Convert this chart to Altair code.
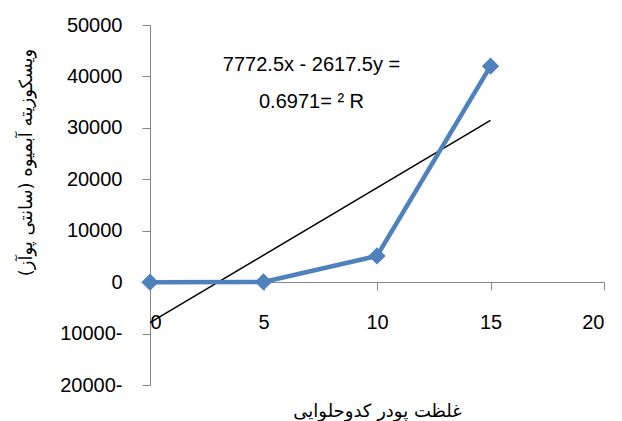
import altair as alt
import pandas as pd

x_vals = [0, 5, 10, 15]
y_vals = [0, 50, 5100, 42000]
eq_lines = ["7772.5x - 2617.5y =", "0.6971= ² R"]
x_title = "غلظت پودر کدوحلوایی"
y_title = "ویسکوزیته آبمیوه (سانتی پوآز)"

df = pd.DataFrame({"x": x_vals, "y": y_vals})

xscale = alt.Scale(domain=[0, 20], nice=False, zero=False)
yscale = alt.Scale(domain=[-20000, 50000], nice=False, zero=False)

num_font = "Liberation Sans"
ar_font = "DejaVu Sans"

xaxis = alt.Axis(
    values=[0, 5, 10, 15, 20], offset=-103, grid=False,
    domainColor="#868686", tickColor="#868686", tickSize=8,
    labelFont=num_font, labelFontSize=20, labelColor="black", labelPadding=22,
    title=x_title, titleFont=ar_font, titleFontSize=18, titleFontWeight="normal",
    titleColor="black", titleY=120, titleBaseline="top",
)
yaxis = alt.Axis(
    values=[-20000, -10000, 0, 10000, 20000, 30000, 40000, 50000], grid=False,
    domainColor="#868686", tickColor="#868686", tickSize=8,
    labelFont=num_font, labelFontSize=20, labelColor="black", labelPadding=20,
    labelExpr="datum.value < 0 ? format(-datum.value, 'd') + '-' : format(datum.value, 'd')",
    title=y_title, titleFont=ar_font, titleFontSize=18, titleFontWeight="normal",
    titleColor="black", titleX=-124, titleY=137, titleAngle=-90,
    titleAlign="center", titleBaseline="middle",
)

base = alt.Chart(df)

line = base.mark_line(color="#4F81BD", strokeWidth=4.5).encode(
    x=alt.X("x:Q", scale=xscale, axis=xaxis),
    y=alt.Y("y:Q", scale=yscale, axis=yaxis),
)
pts = base.mark_point(shape="diamond", filled=True, size=300, color="#4F81BD", opacity=1).encode(
    x=alt.X("x:Q", scale=xscale),
    y=alt.Y("y:Q", scale=yscale),
)
trend = base.transform_regression("x", "y", extent=[0, 15]).mark_line(
    color="black", strokeWidth=1.5
).encode(
    x=alt.X("x:Q", scale=xscale),
    y=alt.Y("y:Q", scale=yscale),
)

ann_df = pd.DataFrame({"t": eq_lines, "py": [40, 77]})
ann = alt.Chart(ann_df).mark_text(
    font=num_font, fontSize=20, color="black", align="center", baseline="middle"
).encode(
    x=alt.value(161.5),
    y=alt.Y("py:Q", scale=None),
    text="t:N",
)

chart = alt.layer(trend, line, pts, ann).properties(
    width=454, height=360,
    padding={"left": 142, "top": 17, "right": 10, "bottom": 36},
    autosize=alt.AutoSizeParams(type="none"),
).configure_view(stroke=None)

chart.save("out.html", embed_options={"renderer": "svg", "actions": False})
